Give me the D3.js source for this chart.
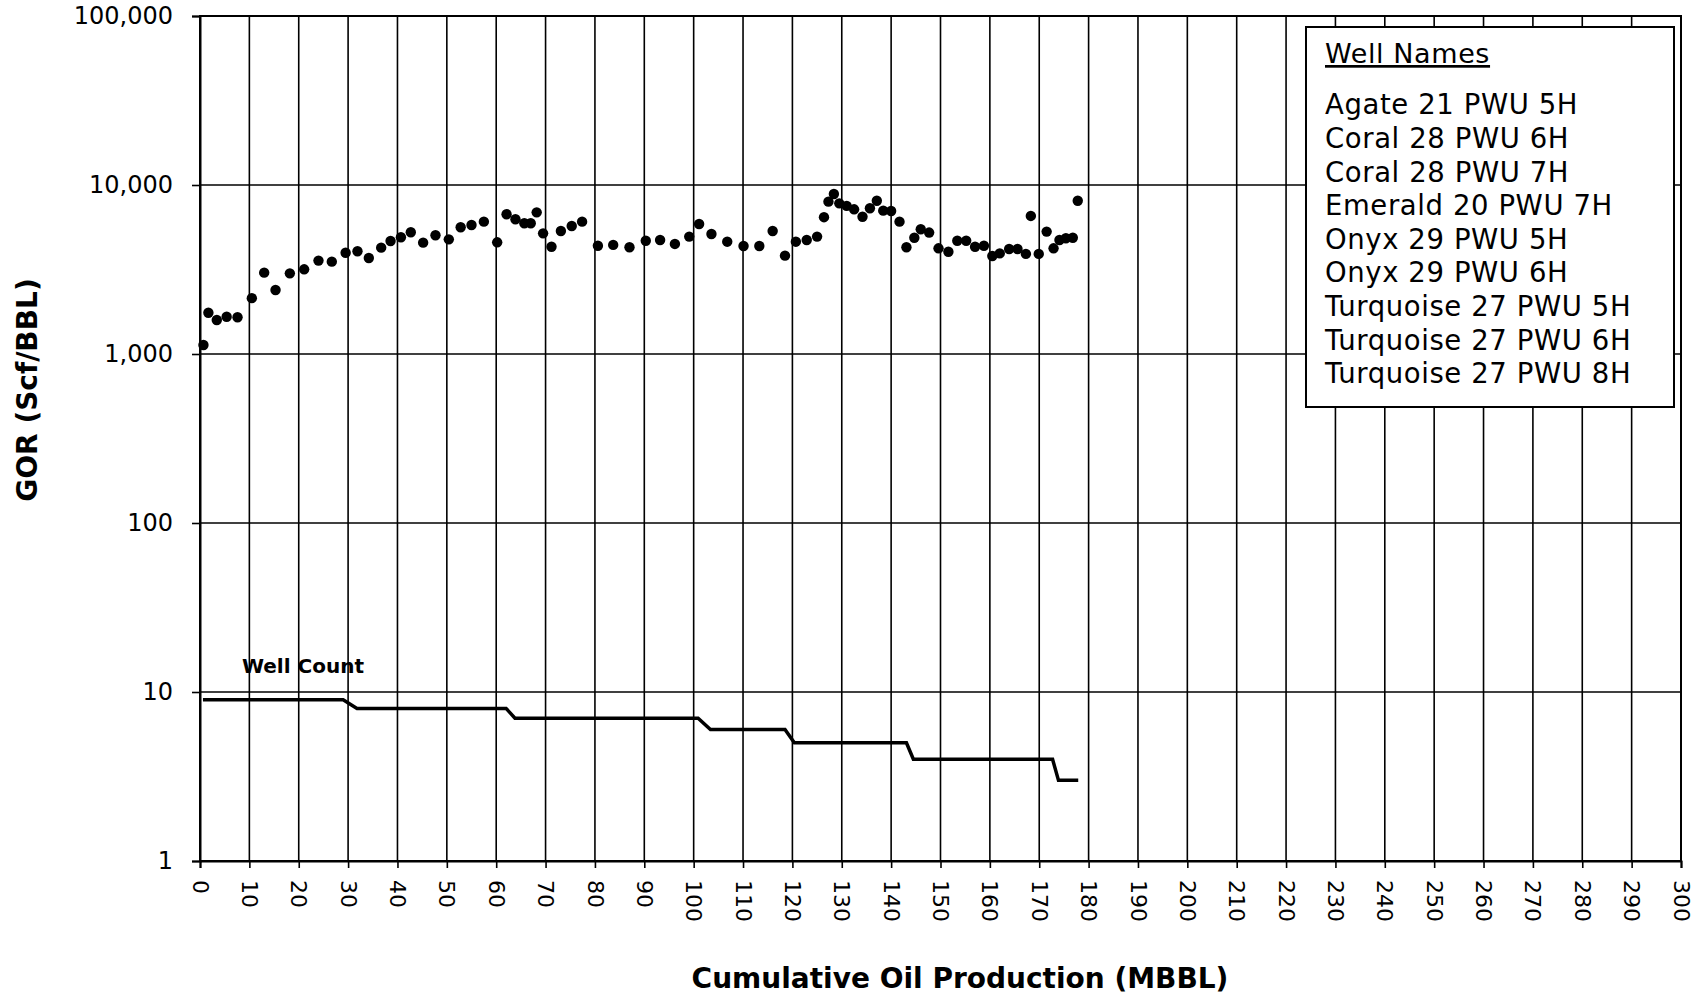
<!DOCTYPE html>
<html>
<head>
<meta charset="utf-8">
<script src="https://cdn.jsdelivr.net/npm/d3@7"></script>
<style>
  html, body { margin: 0; padding: 0; background: #fff; }
  svg { display: block; font-family: "DejaVu Sans", Verdana, sans-serif; }
</style>
</head>
<body>
<svg id="chart" width="1706" height="995"></svg>
<script>
// ---- Data ----
const gorX = [0.7, 1.7, 3.4, 5.4, 7.6, 10.5, 13.0, 15.3, 18.2, 21.1, 24.0, 26.7, 29.5, 31.9, 34.2, 36.7, 38.6, 40.7, 42.7, 45.2, 47.7, 50.4, 52.8, 55.0, 57.5, 60.2, 62.1, 63.9, 65.7, 67.0, 68.2, 69.5, 71.2, 73.1, 75.3, 77.4, 80.6, 83.7, 87.0, 90.3, 93.2, 96.2, 99.1, 101.1, 103.6, 106.8, 110.1, 113.3, 116.0, 118.5, 120.7, 122.9, 125.0, 126.4, 127.3, 128.4, 129.5, 131.0, 132.5, 134.2, 135.7, 137.1, 138.4, 140.0, 141.7, 143.1, 144.7, 146.0, 147.7, 149.6, 151.6, 153.4, 155.2, 157.0, 158.8, 160.5, 162.0, 163.9, 165.6, 167.3, 168.3, 169.9, 171.5, 172.9, 174.1, 175.4, 176.8, 177.8];
const gorY = [1130, 1755, 1590, 1660, 1650, 2140, 3030, 2390, 3000, 3170, 3570, 3520, 3975, 4055, 3700, 4260, 4660, 4910, 5250, 4560, 5040, 4770, 5620, 5800, 6070, 4580, 6710, 6270, 5935, 5935, 6890, 5175, 4310, 5345, 5720, 6070, 4370, 4420, 4280, 4680, 4730, 4480, 4950, 5875, 5130, 4620, 4355, 4355, 5345, 3820, 4620, 4730, 4950, 6450, 7970, 8850, 7790, 7520, 7180, 6490, 7280, 8070, 7050, 7020, 6070, 4280, 4875, 5470, 5230, 4220, 4030, 4680, 4680, 4310, 4370, 3800, 3940, 4180, 4180, 3910, 6560, 3910, 5300, 4220, 4730, 4840, 4875, 8070];

const wellCountX = [0.6, 29.0, 31.8, 62.0, 63.8, 100.9, 103.4, 118.5, 120.4, 143.1, 144.5, 172.7, 173.9, 177.9];
const wellCountY = [9, 9, 8, 8, 7, 7, 6, 6, 5, 5, 4, 4, 3, 3];

const xTicks = d3.range(0, 301, 10);
const yTicks = [1, 10, 100, 1000, 10000, 100000];
const legendTitle = "Well Names";
const legendNames = ["Agate 21 PWU 5H", "Coral 28 PWU 6H", "Coral 28 PWU 7H", "Emerald 20 PWU 7H", "Onyx 29 PWU 5H", "Onyx 29 PWU 6H", "Turquoise 27 PWU 5H", "Turquoise 27 PWU 6H", "Turquoise 27 PWU 8H"];
const xTitle = "Cumulative Oil Production (MBBL)";
const yTitle = "GOR (Scf/BBL)";
const wellCountLabel = "Well Count";

// ---- Layout ----
const L = 200, R = 1681, T = 16, B = 861;
const svg = d3.select("#chart");
const x = d3.scaleLinear().domain([0, 300]).range([L, R]);
const y = d3.scaleLog().domain([1, 100000]).range([B, T]);

// vertical gridlines
svg.append("g").selectAll("line").data(xTicks).join("line")
  .attr("x1", d => x(d)).attr("x2", d => x(d))
  .attr("y1", T).attr("y2", B)
  .attr("stroke", "#000").attr("stroke-width", 1.6);

// horizontal gridlines
svg.append("g").selectAll("line").data(yTicks).join("line")
  .attr("x1", L).attr("x2", R)
  .attr("y1", d => y(d)).attr("y2", d => y(d))
  .attr("stroke", "#000").attr("stroke-width", 1.6);

// border
svg.append("rect").attr("x", L).attr("y", T).attr("width", R - L).attr("height", B - T)
  .attr("fill", "none").attr("stroke", "#000").attr("stroke-width", 2);

// x axis
const xAxis = svg.append("g").attr("transform", `translate(0,${B})`)
  .call(d3.axisBottom(x).tickValues(xTicks).tickSize(7).tickPadding(0).tickFormat(d3.format("d")));
xAxis.select(".domain").attr("stroke", "#000").attr("stroke-width", 2);
xAxis.selectAll(".tick line").attr("stroke", "#000").attr("stroke-width", 1.6);
xAxis.selectAll(".tick text")
  .attr("font-size", 22).attr("font-family", "DejaVu Sans, Verdana, sans-serif").attr("fill", "#000")
  .attr("text-anchor", "start")
  .attr("transform", "translate(0,19) rotate(90)")
  .attr("x", 0).attr("y", 0).attr("dy", "0.36em");

// y axis
const yAxis = svg.append("g").attr("transform", `translate(${L},0)`)
  .call(d3.axisLeft(y).tickValues(yTicks).tickSize(8).tickPadding(19).tickFormat(d3.format(",")));
yAxis.select(".domain").attr("stroke", "#000").attr("stroke-width", 2);
yAxis.selectAll(".tick line").attr("stroke", "#000").attr("stroke-width", 1.6);
yAxis.selectAll(".tick text")
  .attr("font-size", 24).attr("font-family", "DejaVu Sans, Verdana, sans-serif").attr("fill", "#000");

// well count line
const wcData = wellCountX.map((d, i) => [d, wellCountY[i]]);
svg.append("path").datum(wcData)
  .attr("d", d3.line().x(d => x(d[0])).y(d => y(d[1])))
  .attr("fill", "none").attr("stroke", "#000").attr("stroke-width", 3.5);

svg.append("text").attr("x", x(8.5)).attr("y", 673)
  .attr("font-size", 20).attr("font-weight", "bold").attr("fill", "#000")
  .text(wellCountLabel);

// GOR dots
svg.append("g").selectAll("circle").data(gorX.map((d, i) => [d, gorY[i]])).join("circle")
  .attr("cx", d => x(d[0])).attr("cy", d => y(d[1])).attr("r", 5.2)
  .attr("fill", "#000");

// legend
const lg = svg.append("g");
lg.append("rect").attr("x", 1306).attr("y", 27).attr("width", 368).attr("height", 380)
  .attr("fill", "#fff").attr("stroke", "#000").attr("stroke-width", 2);
lg.append("text").attr("x", 1325).attr("y", 63).attr("font-size", 27).attr("fill", "#000")
  .attr("letter-spacing", 0.6)
  .attr("text-decoration", "underline").text(legendTitle);
lg.selectAll("text.name").data(legendNames).join("text").attr("class", "name")
  .attr("x", 1325).attr("y", (d, i) => 114.3 + i * 33.6)
  .attr("font-size", 27.5).attr("letter-spacing", 0.6).attr("fill", "#000").text(d => d);

// axis titles
svg.append("text").attr("x", 960).attr("y", 988).attr("text-anchor", "middle")
  .attr("font-size", 28).attr("font-weight", "bold").attr("fill", "#000").text(xTitle);
svg.append("text").attr("transform", "translate(37,390) rotate(-90)").attr("text-anchor", "middle")
  .attr("font-size", 28).attr("font-weight", "bold").attr("fill", "#000").text(yTitle);
</script>
</body>
</html>
